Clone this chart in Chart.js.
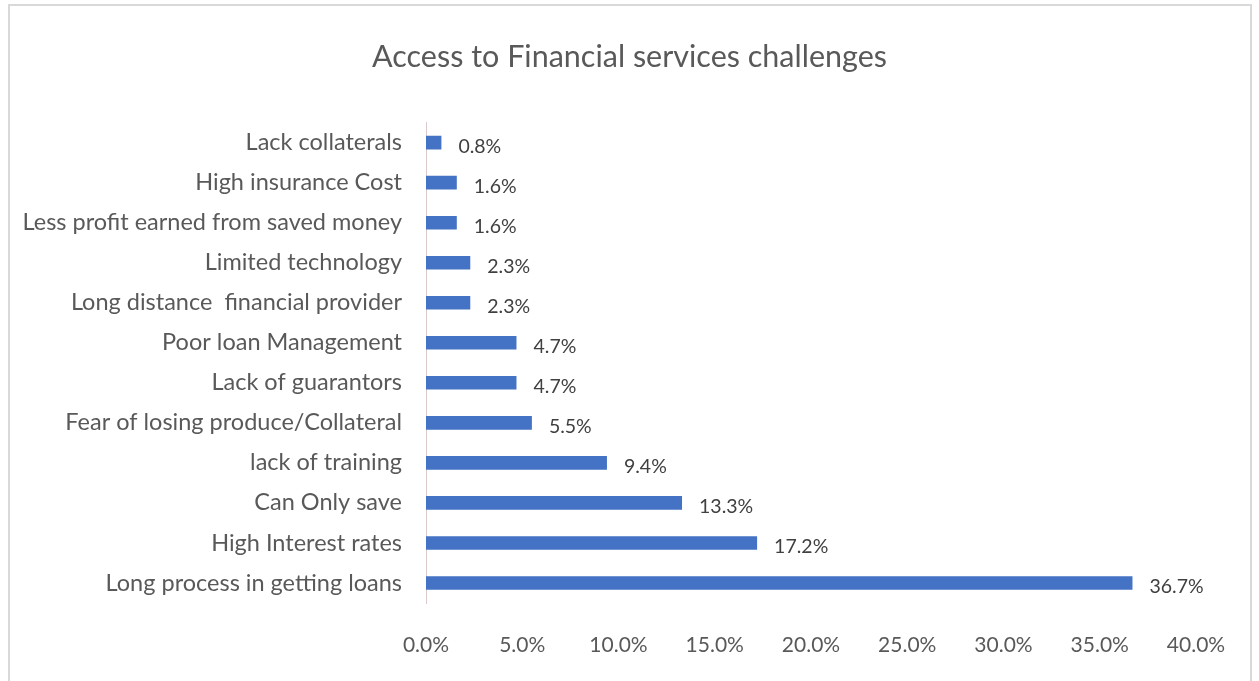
<!DOCTYPE html>
<html>
<head>
<meta charset="utf-8">
<script src="https://cdn.jsdelivr.net/npm/chart.js@4.4.1/dist/chart.umd.min.js"></script>
<style>
  html, body { margin: 0; padding: 0; background: #fff; }
  #wrap { position: relative; width: 1259px; height: 681px; overflow: hidden; }
  #frame { position: absolute; left: 8px; top: 4px; width: 1244px; height: 690px;
           border: 2px solid #d9d9d9; box-sizing: border-box; pointer-events: none; }
  canvas { position: absolute; left: 0; top: 0; }
</style>
</head>
<body>
<div id="wrap">
  <canvas id="c" width="1259" height="681"></canvas>
  <div id="frame"></div>
</div>
<script>
const categories = [
  'Lack collaterals',
  'High insurance Cost',
  'Less profit earned from saved money',
  'Limited technology',
  'Long distance  financial provider',
  'Poor loan Management',
  'Lack of guarantors',
  'Fear of losing produce/Collateral',
  'lack of training',
  'Can Only save',
  'High Interest rates',
  'Long process in getting loans'
];
const shares = [0.8, 1.6, 1.6, 2.3, 2.3, 4.7, 4.7, 5.5, 9.4, 13.3, 17.2, 36.7];
const tickValues = [0, 5, 10, 15, 20, 25, 30, 35, 40];

const FONT = 'Lato, "Open Sans", sans-serif';
const TEXT = '#595959';

// Writes each bar's percentage just past its end
const valueLabels = {
  id: 'valueLabels',
  afterDatasetsDraw(chart) {
    const ctx = chart.ctx;
    const meta = chart.getDatasetMeta(0);
    ctx.save();
    ctx.font = '19.5px ' + FONT;
    ctx.fillStyle = '#404040';
    ctx.textAlign = 'left';
    ctx.textBaseline = 'middle';
    meta.data.forEach((bar, i) => {
      ctx.fillText(shares[i].toFixed(1) + '%', bar.x + 17, bar.y + 4);
    });
    ctx.restore();
  }
};

// Centre the title across the whole canvas rather than the padded area
const titleFullWidth = {
  id: 'titleFullWidth',
  afterLayout(chart) {
    const t = chart.titleBlock;
    if (t) { t.left = 0; t.right = chart.width; t.width = chart.width; }
  }
};

new Chart(document.getElementById('c'), {
  type: 'bar',
  data: {
    labels: categories,
    datasets: [{
      data: shares,
      backgroundColor: '#4472C4',
      categoryPercentage: 1,
      barPercentage: 0.34
    }]
  },
  options: {
    indexAxis: 'y',
    responsive: false,
    animation: false,
    layout: { padding: { left: 0, right: 63, top: 0, bottom: 0 } },
    plugins: {
      legend: { display: false },
      tooltip: { enabled: false },
      title: {
        display: true,
        text: 'Access to Financial services challenges',
        color: TEXT,
        font: { family: FONT, size: 30.5, weight: 'normal' },
        padding: { top: 39, bottom: 47 }
      }
    },
    scales: {
      x: {
        min: 0,
        max: 40,
        afterBuildTicks(scale) { scale.ticks = tickValues.map(v => ({ value: v })); },
        afterFit(scale) { scale.height = 78; },
        grid: { display: false, drawTicks: false },
        border: { display: false },
        ticks: {
          padding: 30,
          color: TEXT,
          font: { family: FONT, size: 21 },
          callback: v => Number(v).toFixed(1) + '%'
        }
      },
      y: {
        afterFit(scale) { scale.width = 426; },
        grid: { display: false, drawTicks: false },
        border: { display: true, color: '#dccaca', width: 1 },
        ticks: {
          padding: 24,
          color: TEXT,
          font: { family: FONT, size: 23.5 }
        }
      }
    }
  },
  plugins: [valueLabels, titleFullWidth]
});
</script>
</body>
</html>
